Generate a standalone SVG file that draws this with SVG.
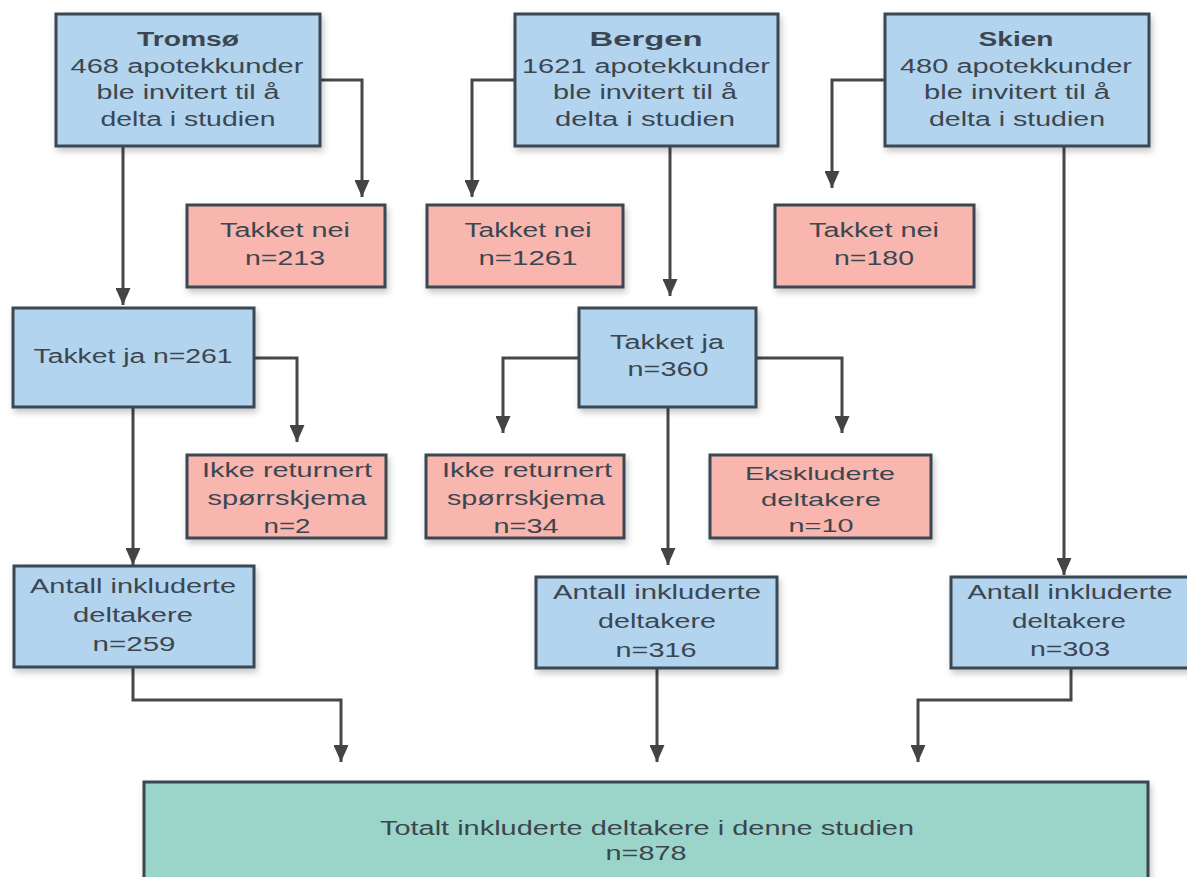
<svg xmlns="http://www.w3.org/2000/svg" width="1187" height="877" viewBox="0 0 1187 877">
<style>
  .box{stroke:#3a4653;stroke-width:3;filter:url(#sh)}
  .blue{fill:#b2d4ee}
  .pink{fill:#f8b6ae}
  .teal{fill:#9bd5c9}
  text{font-family:"Liberation Sans",Arial,sans-serif;font-size:20px;fill:#3c4650;text-anchor:middle}
  .b{font-weight:bold}
  .s{font-size:19px}
  .con path{fill:none;stroke:#474747;stroke-width:3;marker-end:url(#ah)}
</style>
<defs>
  <filter id="sh" x="-10%" y="-10%" width="125%" height="135%">
    <feDropShadow dx="2" dy="4" stdDeviation="3" flood-color="#000" flood-opacity="0.22"/>
  </filter>
  <marker id="ah" markerUnits="userSpaceOnUse" markerWidth="17" markerHeight="15" refX="17" refY="7.5" orient="auto">
    <path d="M0,0 L17,7.5 L0,15 Z" fill="#444"/>
  </marker>
</defs>
<rect width="1187" height="877" fill="#fff"/>

<g class="con" id="connectors">
  <path d="M320,80 H362 V197"/>
  <path d="M123,146 V305"/>
  <path d="M515,80 H472 V197"/>
  <path d="M670,146 V296"/>
  <path d="M885,80 H832 V188"/>
  <path d="M1064,146 V575"/>
  <path d="M254,358 H297 V442"/>
  <path d="M133,407 V565"/>
  <path d="M579,358 H503 V433"/>
  <path d="M756,358 H842 V433"/>
  <path d="M668,407 V565"/>
  <path d="M133,667 V700 H341 V762"/>
  <path d="M657,668 V762"/>
  <path d="M1071,668 V700 H918 V762"/>
</g>

<g id="tromso">
  <rect class="box blue" x="56" y="14" width="264" height="132"/>
  <text class="b" x="188" y="46" textLength="102" lengthAdjust="spacingAndGlyphs">Tromsø</text>
  <text x="187" y="73" textLength="233" lengthAdjust="spacingAndGlyphs">468 apotekkunder</text>
  <text x="188" y="99" textLength="183" lengthAdjust="spacingAndGlyphs">ble invitert til å</text>
  <text x="188" y="126" textLength="175" lengthAdjust="spacingAndGlyphs">delta i studien</text>
</g>
<g id="bergen">
  <rect class="box blue" x="515" y="14" width="263" height="132"/>
  <text class="b" x="646" y="46" textLength="113" lengthAdjust="spacingAndGlyphs">Bergen</text>
  <text x="646" y="73" textLength="248" lengthAdjust="spacingAndGlyphs">1621 apotekkunder</text>
  <text x="645" y="99" textLength="184" lengthAdjust="spacingAndGlyphs">ble invitert til å</text>
  <text x="645" y="126" textLength="180" lengthAdjust="spacingAndGlyphs">delta i studien</text>
</g>
<g id="skien">
  <rect class="box blue" x="885" y="14" width="264" height="132"/>
  <text class="b" x="1016" y="46" textLength="75" lengthAdjust="spacingAndGlyphs">Skien</text>
  <text x="1016" y="73" textLength="232" lengthAdjust="spacingAndGlyphs">480 apotekkunder</text>
  <text x="1017" y="99" textLength="186" lengthAdjust="spacingAndGlyphs">ble invitert til å</text>
  <text x="1017" y="126" textLength="176" lengthAdjust="spacingAndGlyphs">delta i studien</text>
</g>

<g id="nei-tromso">
  <rect class="box pink" x="187" y="205" width="198" height="82"/>
  <text x="285" y="237" textLength="130" lengthAdjust="spacingAndGlyphs">Takket nei</text>
  <text x="285" y="265" textLength="80" lengthAdjust="spacingAndGlyphs">n=213</text>
</g>
<g id="nei-bergen">
  <rect class="box pink" x="427" y="205" width="196" height="82"/>
  <text x="528" y="237" textLength="127" lengthAdjust="spacingAndGlyphs">Takket nei</text>
  <text x="528" y="265" textLength="99" lengthAdjust="spacingAndGlyphs">n=1261</text>
</g>
<g id="nei-skien">
  <rect class="box pink" x="775" y="205" width="199" height="82"/>
  <text x="874" y="237" textLength="130" lengthAdjust="spacingAndGlyphs">Takket nei</text>
  <text x="874" y="265" textLength="80" lengthAdjust="spacingAndGlyphs">n=180</text>
</g>

<g id="ja-tromso">
  <rect class="box blue" x="13" y="308" width="241" height="99"/>
  <text x="133" y="363" textLength="199" lengthAdjust="spacingAndGlyphs">Takket ja n=261</text>
</g>
<g id="ja-bergen">
  <rect class="box blue" x="579" y="308" width="177" height="99"/>
  <text x="667" y="349" textLength="114" lengthAdjust="spacingAndGlyphs">Takket ja</text>
  <text x="668" y="376" textLength="81" lengthAdjust="spacingAndGlyphs">n=360</text>
</g>

<g id="ikke-tromso">
  <rect class="box pink" x="187" y="455" width="199" height="83"/>
  <text x="287" y="477" textLength="170" lengthAdjust="spacingAndGlyphs">Ikke returnert</text>
  <text x="287" y="505" textLength="159" lengthAdjust="spacingAndGlyphs">spørrskjema</text>
  <text x="287" y="533" textLength="47" lengthAdjust="spacingAndGlyphs">n=2</text>
</g>
<g id="ikke-bergen">
  <rect class="box pink" x="426" y="455" width="198" height="83"/>
  <text x="527" y="477" textLength="170" lengthAdjust="spacingAndGlyphs">Ikke returnert</text>
  <text x="526" y="505" textLength="158" lengthAdjust="spacingAndGlyphs">spørrskjema</text>
  <text x="526" y="533" textLength="65" lengthAdjust="spacingAndGlyphs">n=34</text>
</g>
<g id="ekskluderte">
  <rect class="box pink" x="710" y="455" width="221" height="83"/>
  <text class="s" x="820" y="480" textLength="150" lengthAdjust="spacingAndGlyphs">Ekskluderte</text>
  <text class="s" x="821" y="506" textLength="120" lengthAdjust="spacingAndGlyphs">deltakere</text>
  <text class="s" x="821" y="532" textLength="65" lengthAdjust="spacingAndGlyphs">n=10</text>
</g>

<g id="antall-tromso">
  <rect class="box blue" x="14" y="566" width="240" height="101"/>
  <text x="133" y="593" textLength="206" lengthAdjust="spacingAndGlyphs">Antall inkluderte</text>
  <text x="133" y="622" textLength="120" lengthAdjust="spacingAndGlyphs">deltakere</text>
  <text x="134" y="651" textLength="83" lengthAdjust="spacingAndGlyphs">n=259</text>
</g>
<g id="antall-bergen">
  <rect class="box blue" x="536" y="577" width="241" height="91"/>
  <text x="657" y="599" textLength="208" lengthAdjust="spacingAndGlyphs">Antall inkluderte</text>
  <text x="657" y="628" textLength="118" lengthAdjust="spacingAndGlyphs">deltakere</text>
  <text x="656" y="657" textLength="81" lengthAdjust="spacingAndGlyphs">n=316</text>
</g>
<g id="antall-skien">
  <rect class="box blue" x="951" y="577" width="240" height="91"/>
  <text x="1070" y="599" textLength="205" lengthAdjust="spacingAndGlyphs">Antall inkluderte</text>
  <text x="1069" y="628" textLength="114" lengthAdjust="spacingAndGlyphs">deltakere</text>
  <text x="1070" y="656" textLength="80" lengthAdjust="spacingAndGlyphs">n=303</text>
</g>

<g id="totalt">
  <rect class="box teal" x="144" y="782" width="1004" height="115"/>
  <text x="647" y="835" textLength="534" lengthAdjust="spacingAndGlyphs">Totalt inkluderte deltakere i denne studien</text>
  <text x="646" y="860" textLength="81" lengthAdjust="spacingAndGlyphs">n=878</text>
</g>
</svg>
